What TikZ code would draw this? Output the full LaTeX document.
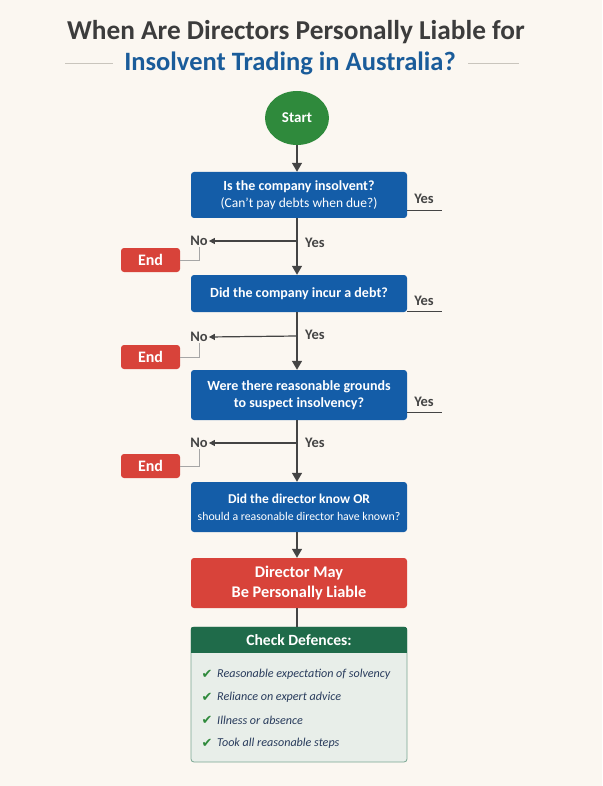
\documentclass[tikz,border=0pt]{standalone}
\usepackage{fontspec}
\setmainfont{Carlito}
\newfontfamily\symfont{DejaVu Sans}
\usetikzlibrary{arrows.meta,shapes.geometric}
\definecolor{bgcream}{HTML}{FBF7F1}
\definecolor{qblue}{HTML}{145DA8}
\definecolor{endred}{HTML}{D8433A}
\definecolor{startgreen}{HTML}{2F8A3C}
\definecolor{defgreen}{HTML}{1F6B4A}
\definecolor{defbody}{HTML}{E8EEE9}
\definecolor{titlegray}{HTML}{3C3C3C}
\definecolor{titleblue}{HTML}{1A5C9A}
\definecolor{linegray}{HTML}{444444}
\definecolor{itemblue}{HTML}{283B5C}
\definecolor{rulegray}{HTML}{C9C5BD}
\tikzset{
	qbox/.style={rectangle, rounded corners=3pt, fill=qblue, text=white, minimum width=216pt, align=center, font=\fontsize{14}{17}\selectfont\bfseries},
	endbox/.style={rectangle, rounded corners=3pt, fill=endred, text=white, minimum width=59pt, minimum height=24pt, inner sep=0pt, font=\fontsize{16}{17}\selectfont\bfseries},
	lbl/.style={text=linegray, font=\fontsize{14.5}{16}\selectfont\bfseries, inner sep=1pt},
	flow/.style={draw=linegray, line width=1.4pt, -{Triangle[width=10pt,length=9pt]}},
	noarrow/.style={draw=linegray, line width=1.2pt, -{Triangle[width=6pt,length=6pt]}},
	endlink/.style={draw=gray!70, line width=0.8pt},
	item/.style={anchor=west, text=itemblue, inner sep=0pt, font=\fontsize{12.1}{14}\selectfont\itshape},
	tick/.style={text=startgreen, inner sep=0pt, font=\fontsize{13}{14}\symfont}
}
\begin{document}
\begin{tikzpicture}[x=1pt, y=-1pt]
	\useasboundingbox[fill=bgcream] (0,0) rectangle (602,786);
	% title
	\node[text=titlegray, font=\fontsize{27.3}{30}\selectfont\bfseries] (t1) at (296,32) {When Are Directors Personally Liable for};
	\node[text=titleblue, font=\fontsize{26.5}{30}\selectfont\bfseries] (t2) at (290,63) {Insolvent Trading in Australia?};
	\draw[rulegray, line width=0.8pt] (65,63) -- (113,63);
	\draw[rulegray, line width=0.8pt] (468,63) -- (519,63);
	% flow boxes
	\node[ellipse, fill=startgreen, text=white, minimum width=64pt, minimum height=54pt, inner sep=0pt, font=\fontsize{15}{17}\selectfont\bfseries] (start) at (297,118) {Start};
	\node[qbox, minimum height=46pt] (q1) at (299,195) {Is the company insolvent?\\{\fontsize{13.5}{17}\selectfont\mdseries (Can't pay debts when due?)}};
	\node[qbox, minimum height=37pt] (q2) at (299,293.5) {Did the company incur a debt?};
	\node[qbox, minimum height=50pt] (q3) at (299,395) {Were there reasonable grounds\\to suspect insolvency?};
	\node[qbox, minimum height=50pt, font=\fontsize{13.5}{17}\selectfont\bfseries] (q4) at (299,507) {Did the director know OR\\{\fontsize{11.8}{15}\selectfont\mdseries should a reasonable director have known?}};
	\node[qbox, minimum height=50pt, fill=endred, font=\fontsize{16.3}{20}\selectfont\bfseries] (liable) at (299,583) {Director May\\Be Personally Liable};
	% yes labels on the right
	\node[lbl] (yes1) at (424,199) {Yes};
	\node[lbl] (yes2) at (424,301) {Yes};
	\node[lbl] (yes3) at (424,402) {Yes};
	\draw[linegray, line width=0.8pt] (q1.east |- 0,210) -- (442,210);
	\draw[linegray, line width=0.8pt] (q2.east |- 0,311) -- (442,311);
	\draw[linegray, line width=0.8pt] (q3.east |- 0,412) -- (442,412);
	% branches
	\coordinate (b1) at (297,241);
	\coordinate (b2) at (297,336);
	\coordinate (b3) at (297,443);
	\node[lbl] (no1) at (199,241) {No};
	\node[lbl] (no2) at (199,337) {No};
	\node[lbl] (no3) at (199,443) {No};
	\node[lbl, anchor=west] (y1) at (304,243) {Yes};
	\node[lbl, anchor=west] (y2) at (304,335) {Yes};
	\node[lbl, anchor=west] (y3) at (304,443) {Yes};
	\node[endbox] (end1) at (150.5,260) {End};
	\node[endbox] (end2) at (150.5,357) {End};
	\node[endbox] (end3) at (150.5,466) {End};
	% connectors
	\draw[flow] (start) -- (start |- q1.north);
	\draw[flow] (b1 |- q1.south) -- (b1 |- q2.north);
	\draw[flow] (b2 |- q2.south) -- (b2 |- q3.north);
	\draw[flow] (b3 |- q3.south) -- (b3 |- q4.north);
	\draw[flow] (b3 |- q4.south) -- (b3 |- liable.north);
	\draw[noarrow] (b1) -- (no1.east);
	\draw[noarrow] (b2) -- (no2.east);
	\draw[noarrow] (b3) -- (no3.east);
	\draw[endlink] (end1.east) -| (no1.south);
	\draw[endlink] (end2.east) -| (no2.south);
	\draw[endlink] (end3.east) -| (no3.south);
	% defences
	\node[rectangle, rounded corners=3pt, draw=defgreen!60, line width=0.8pt, fill=defbody, minimum width=216pt, minimum height=135pt] (def) at (299,694.5) {};
	\begin{scope}
		\clip[rounded corners=3pt] (def.south west) rectangle (def.north east);
		\fill[defgreen] (def.north west) rectangle ([yshift=-26pt]def.north east);
	\end{scope}
	\node[text=white, font=\fontsize{15.6}{17}\selectfont\bfseries] (hdr) at ([yshift=-13pt]def.north) {Check Defences:};
	\draw[linegray, line width=1.2pt] (b3 |- liable.south) -- (b3 |- def.north);
	\node[tick] (c1) at (207,674) {✔};
	\node[tick] (c2) at (207,697) {✔};
	\node[tick] (c3) at (207,720) {✔};
	\node[tick] (c4) at (207,743) {✔};
	\node[item] (d1) at (217,674) {Reasonable expectation of solvency};
	\node[item] (d2) at (217,697) {Reliance on expert advice};
	\node[item] (d3) at (217,720) {Illness or absence};
	\node[item] (d4) at (217,743) {Took all reasonable steps};
\end{tikzpicture}
\end{document}
